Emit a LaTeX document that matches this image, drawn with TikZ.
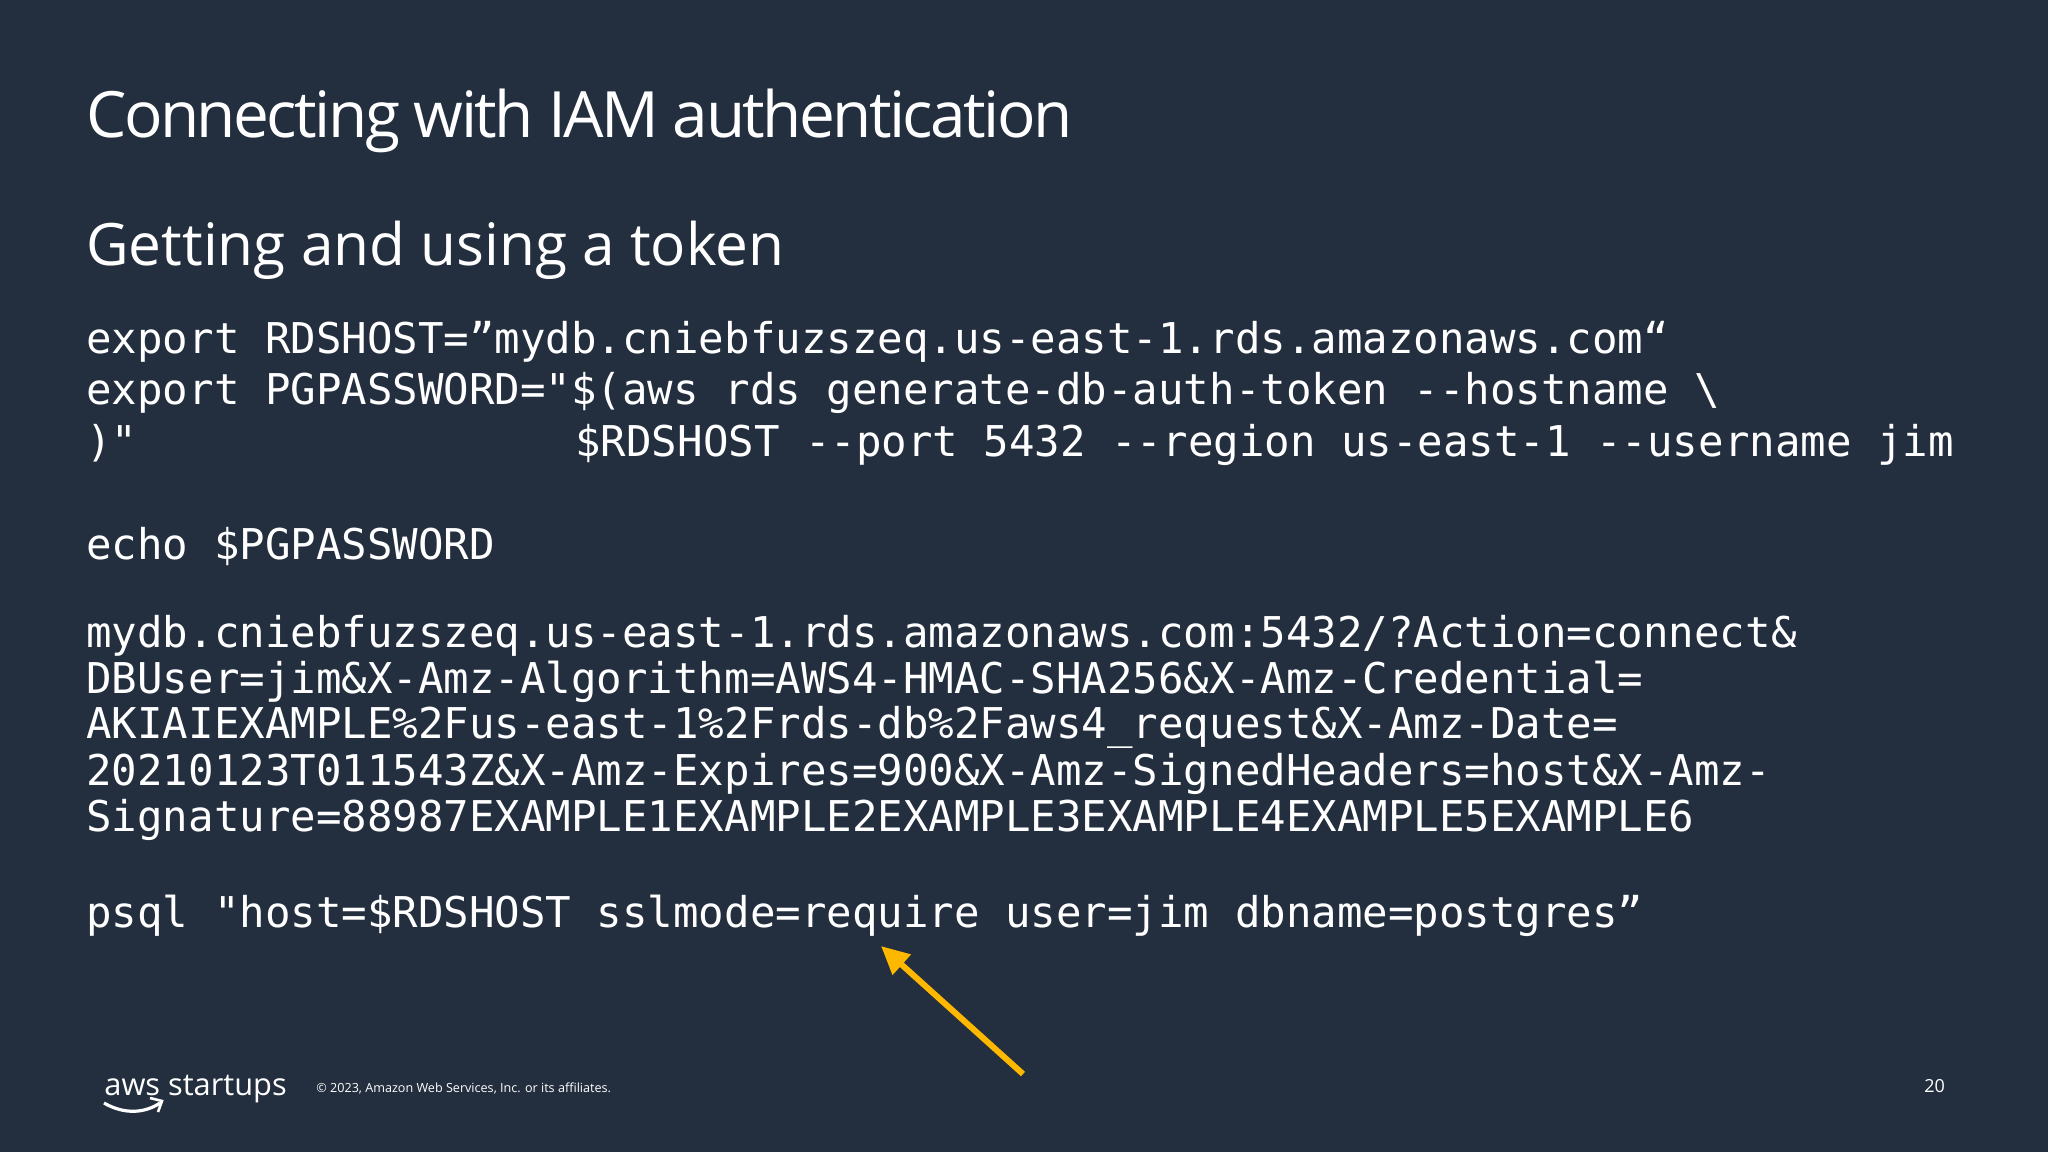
\documentclass[tikz,border=0pt]{standalone}
\usepackage{fontspec}
\setmainfont{Open Sans}
\setmonofont{DejaVu Sans Mono}
\usetikzlibrary{arrows.meta}
\definecolor{bg}{HTML}{232F3E}
\definecolor{arr}{HTML}{FFB800}
\begin{document}
\begin{tikzpicture}[x=0.5pt,y=-0.5pt,
  txt/.style={anchor=base west,inner sep=0,text=white},
  code/.style={txt,font=\fontsize{21.2}{24}\ttfamily}]
\fill[bg] (0,0) rectangle (2048,1152);
\useasboundingbox (0,0) rectangle (2048,1152);
\node[txt] (title) at (86,137) {\resizebox{493pt}{!}{\fontsize{30}{36}\selectfont\addfontfeature{LetterSpace=-4}Connecting with IAM authentication}};
\node[txt] (sub) at (86,265) {\resizebox{349pt}{!}{\fontsize{24}{28}\selectfont Getting and using a token}};
\node[code] (l1) at (86,353) {export RDSHOST=”mydb.cniebfuzszeq.us-east-1.rds.amazonaws.com“};
\node[code] (l2) at (86,404) {export PGPASSWORD="\$(aws rds generate-db-auth-token --hostname \textbackslash};
\node[code] (l3a) at (86,456) {)"};
\node[code] (l3b) at (575,456) {\$RDSHOST --port 5432 --region us-east-1 --username jim};
\node[code] (l4) at (86,559) {echo \$PGPASSWORD};
\node[code] (l5) at (86,647) {mydb.cniebfuzszeq.us-east-1.rds.amazonaws.com:5432/?Action=connect\&};
\node[code] (l6) at (86,693) {DBUser=jim\&X-Amz-Algorithm=AWS4-HMAC-SHA256\&X-Amz-Credential=};
\node[code] (l7) at (86,738) {AKIAIEXAMPLE\%2Fus-east-1\%2Frds-db\%2Faws4\_request\&X-Amz-Date=};
\node[code] (l8) at (86,785) {20210123T011543Z\&X-Amz-Expires=900\&X-Amz-SignedHeaders=host\&X-Amz-};
\node[code] (l9) at (86,831) {Signature=88987EXAMPLE1EXAMPLE2EXAMPLE3EXAMPLE4EXAMPLE5EXAMPLE6};
\node[code] (l10) at (86,927) {psql "host=\$RDSHOST sslmode=require user=jim dbname=postgres”};
\coordinate (as) at (1023,1074);
\coordinate (ae) at (881,946);
\draw[arr,line width=3pt,-{Triangle[length=14pt,width=13pt]}] (as) -- (ae);
\node[txt] (logo) at (104,1095) {\fontsize{15.4}{18}\selectfont aws startups};
\coordinate (s1) at (104,1103);
\coordinate (s2) at (160,1103);
\draw[white,line width=1.6pt] (s1) .. controls (125,1115) and (145,1113) .. (s2);
\draw[white,line width=1.3pt] (150,1098) -- (162,1101) -- (158,1112);
\node[txt] (copy) at (316,1092) {\fontsize{6.3}{8}\selectfont © 2023, Amazon Web Services, Inc. or its affiliates.};
\node[txt] (pg) at (1924,1092) {\fontsize{9}{10}\selectfont 20};
\end{tikzpicture}
\end{document}
